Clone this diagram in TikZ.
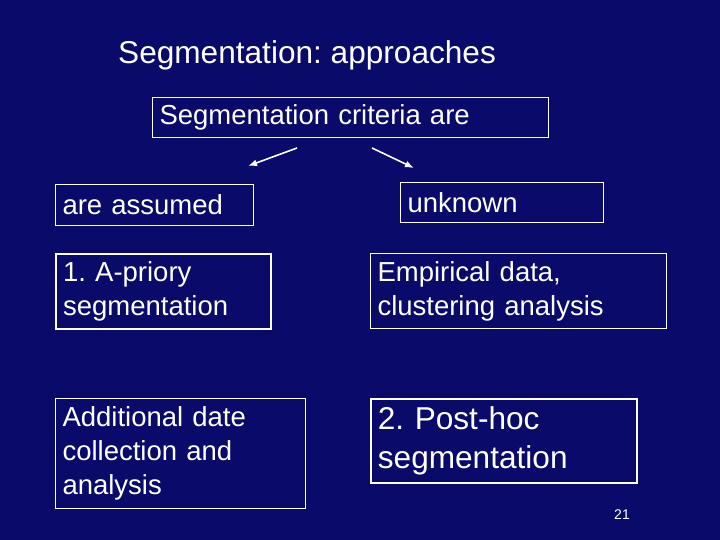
\documentclass[tikz,border=0pt]{standalone}
\usepackage{fontspec}
\usetikzlibrary{arrows.meta}
\setmainfont{Liberation Sans}
\frenchspacing
\begin{document}
\begin{tikzpicture}[x=1pt,y=-1pt,
  box/.style={draw=white,line width=1pt,text=white,anchor=north west,align=left,inner sep=0pt,inner xsep=7pt,font=\fontsize{27.5}{34}\selectfont},
  arr/.style={draw=white,line width=1.6pt,-{Latex[length=9pt,width=7pt]}}]
\fill[fill={rgb,255:red,10;green,10;blue,106}] (0,0) rectangle (720,540);
\useasboundingbox (0,0) rectangle (720,540);
\node[text=white,anchor=west,font=\fontsize{31.6}{36}\selectfont,inner sep=0pt] (title) at (118,55) {Segmentation: approaches};
\node[box,minimum width=396pt,minimum height=40pt,text width=382pt] (crit) at (152,97) {Segmentation criteria are};
\node[box,minimum width=198pt,minimum height=41pt,text width=184pt] (ass) at (55,184) {are assumed};
\node[box,minimum width=203pt,minimum height=40pt,text width=189pt] (unk) at (400,182) {unknown};
\node[box,line width=2.2pt,minimum width=215pt,minimum height=75pt,text width=201pt] (apr) at (55,253) {1. A-priory\\segmentation};
\node[box,minimum width=296pt,minimum height=75pt,text width=282pt] (emp) at (370,253) {Empirical data,\\clustering analysis};
\node[box,minimum width=250pt,minimum height=110pt,text width=236pt] (add) at (55,398) {Additional date\\collection and\\analysis};
\node[box,line width=1.8pt,minimum width=266pt,minimum height=84pt,text width=252pt,font=\fontsize{31.6}{39}\selectfont] (ph) at (370,398) {2. Post-hoc\\segmentation};
\node[text=white,font=\fontsize{14}{16}\selectfont,inner sep=0pt] (pg) at (622,515) {21};
\coordinate (a1) at (297,148); \coordinate (a2) at (248,166);
\coordinate (b1) at (372,148); \coordinate (b2) at (414,168);
\draw[arr] (a1) -- (a2);
\draw[arr] (b1) -- (b2);
\end{tikzpicture}
\end{document}
